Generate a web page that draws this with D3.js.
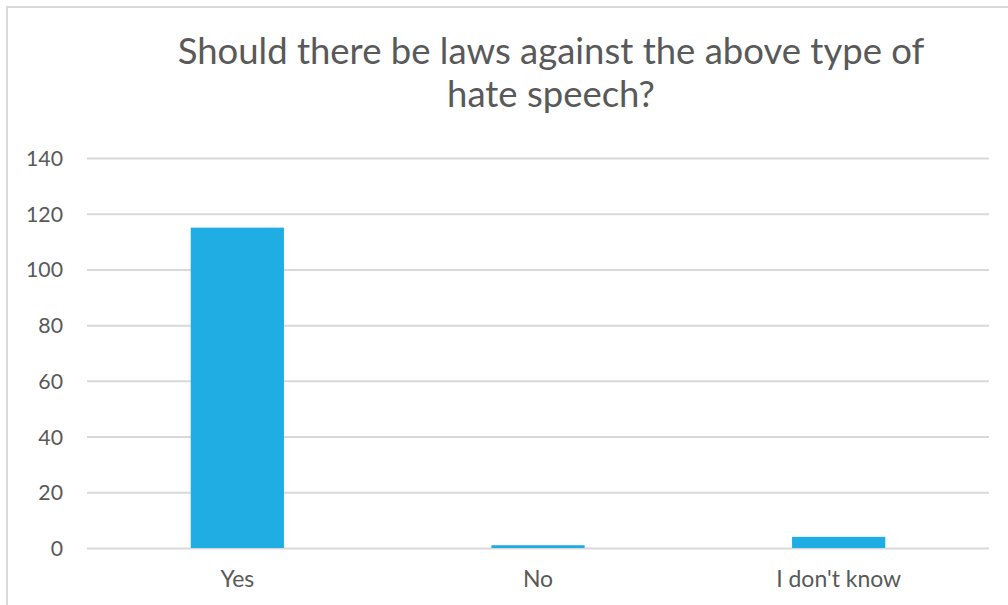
<!DOCTYPE html>
<html>
<head>
<meta charset="utf-8">
<script src="https://cdn.jsdelivr.net/npm/d3@7"></script>
<style>
  html, body { margin: 0; padding: 0; background: #fff; }
  svg { display: block; }
  svg text { font-family: Lato, "Open Sans", sans-serif; }
</style>
</head>
<body>
<svg id="chart" width="1008" height="605"></svg>
<script>
// Survey answers and counts
const categories = ["Yes", "No", "I don't know"];
const counts = [115, 1, 4];
const yTicks = [0, 20, 40, 60, 80, 100, 120, 140];
const titleLines = ["Should there be laws against the above type of", "hate speech?"];

const svg = d3.select("#chart");
const W = 1008, H = 605;
const plot = { left: 87, right: 989, top: 158, bottom: 548 };
const textColor = "#595959";
const gridColor = "#d9d9d9";
const barColor = "#1fade4";
const font = "Lato, 'Open Sans', sans-serif";

// Scale a text selection's font size so a reference string spans a given width
function fitFont(sel, sampleNode, targetWidth) {
  const w = sampleNode.getComputedTextLength();
  const size = parseFloat(sampleNode.style.fontSize);
  sel.style("font-size", (size * targetWidth / w) + "px");
}

// Chart frame (extends past the right and bottom edges of the window)
svg.append("rect")
  .attr("x", 7).attr("y", 7)
  .attr("width", W + 20).attr("height", H + 20)
  .attr("fill", "#fff")
  .attr("stroke", gridColor).attr("stroke-width", 2);

const x = d3.scaleBand()
  .domain(categories)
  .range([plot.left, plot.right])
  .paddingInner(0.69)
  .paddingOuter(0.345);

const y = d3.scaleLinear()
  .domain([0, 140])
  .range([plot.bottom, plot.top]);

// Horizontal gridlines with value labels
const yAxis = d3.axisLeft(y)
  .tickValues(yTicks)
  .tickSize(-(plot.right - plot.left))
  .tickPadding(24)
  .tickFormat(d3.format("d"));

const gy = svg.append("g")
  .attr("transform", `translate(${plot.left},0)`)
  .call(yAxis)
  .attr("font-family", font);
gy.select(".domain").remove();
gy.selectAll(".tick line").attr("stroke", gridColor).attr("stroke-width", 2);
const yLabels = gy.selectAll(".tick text")
  .attr("fill", textColor)
  .style("font-size", "20px")
  .attr("dy", "0.35em");
fitFont(yLabels, yLabels.filter(d => d === 140).node(), 37);

// Bars
svg.append("g").selectAll("rect")
  .data(categories.map((c, i) => ({ c, v: counts[i] })))
  .join("rect")
  .attr("x", d => x(d.c))
  .attr("width", x.bandwidth())
  .attr("y", d => y(d.v))
  .attr("height", d => y(0) - y(d.v))
  .attr("fill", barColor);

// Category labels
const xAxis = d3.axisBottom(x).tickSize(0).tickPadding(0);
const gx = svg.append("g")
  .attr("transform", `translate(0,${plot.bottom})`)
  .call(xAxis)
  .attr("font-family", font);
gx.select(".domain").remove();
const xLabels = gx.selectAll(".tick text")
  .attr("fill", textColor)
  .style("font-size", "20px")
  .attr("y", 39)
  .attr("dy", 0);
fitFont(xLabels, xLabels.filter(d => d === "I don't know").node(), 125);

// Title, two centered lines
const title = svg.append("g").attr("fill", textColor);
const titleText = title.selectAll("text")
  .data(titleLines)
  .join("text")
  .attr("x", 551)
  .attr("y", (d, i) => 64 + i * 43)
  .attr("text-anchor", "middle")
  .style("font-size", "31px")
  .style("font-weight", 400)
  .text(d => d);
fitFont(titleText, titleText.node(), 747);
</script>
</body>
</html>
